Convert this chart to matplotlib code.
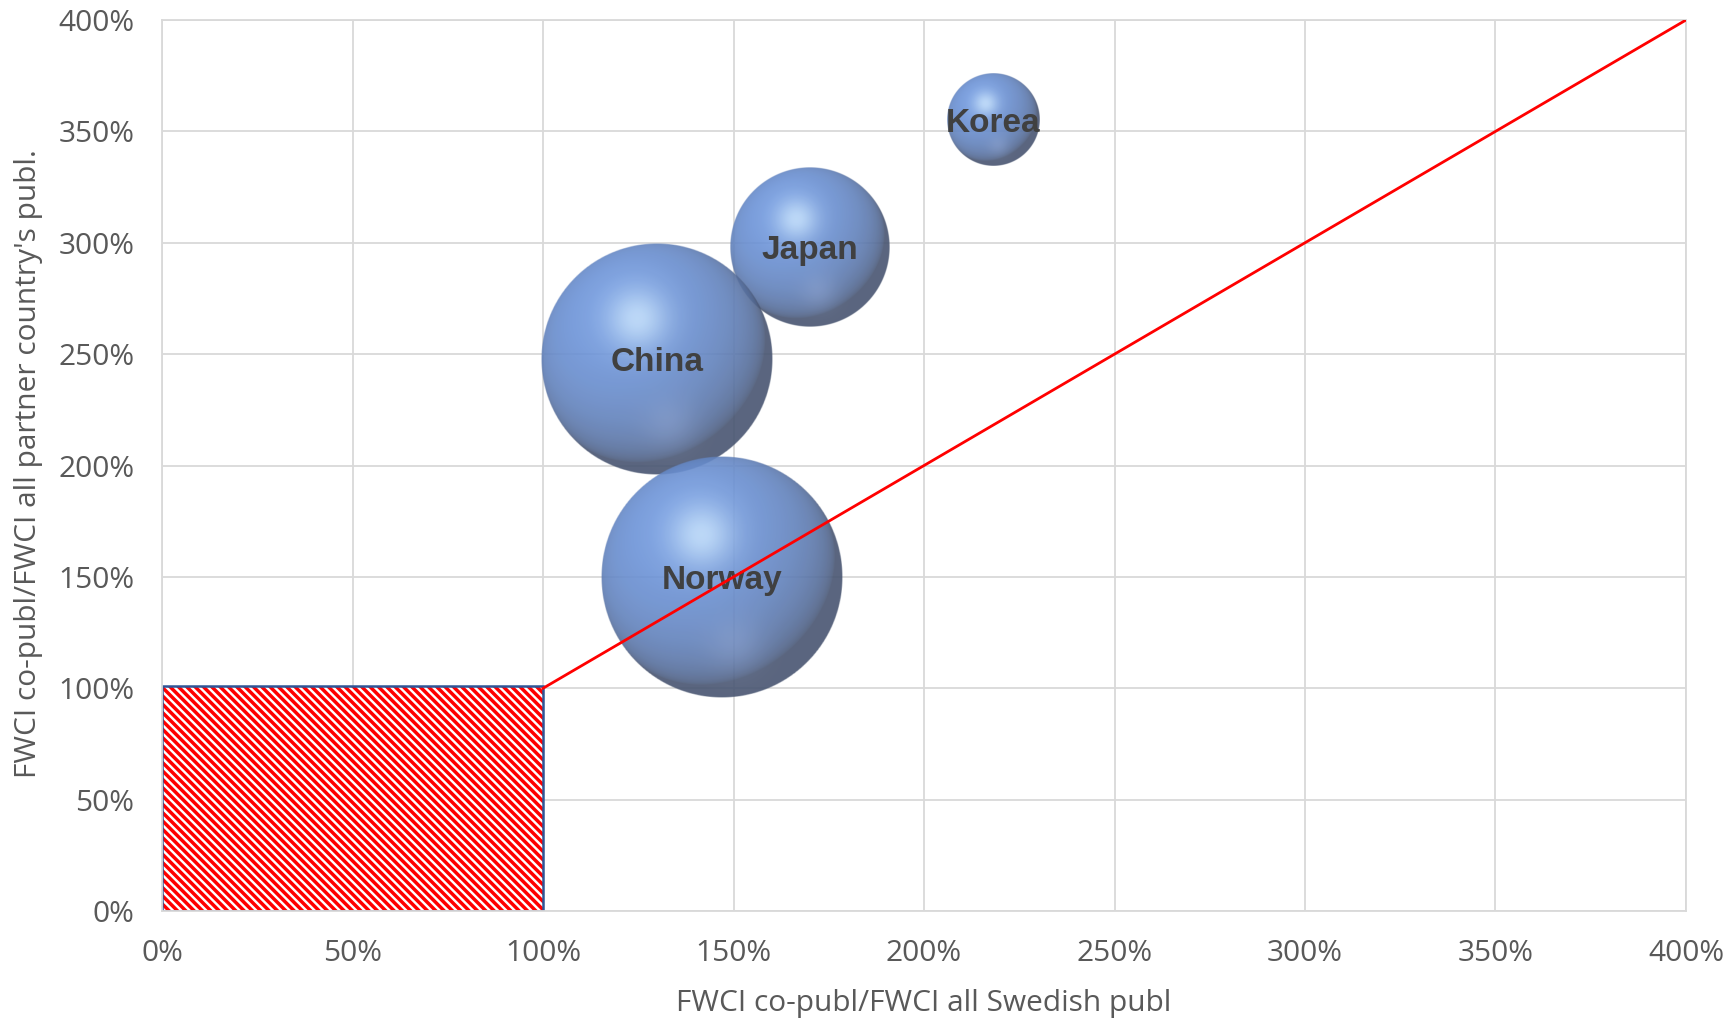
import numpy as np
import matplotlib.pyplot as plt
from matplotlib.patches import Rectangle
from matplotlib.ticker import PercentFormatter

plt.rcParams['font.family'] = ['Open Sans', 'DejaVu Sans']
plt.rcParams['hatch.linewidth'] = 2.5

# data (ratios, 1.0 = 100%)
countries = ['Korea', 'Japan', 'China', 'Norway']
fwci_swe = [2.18, 1.70, 1.30, 1.47]
fwci_partner = [3.55, 2.98, 2.48, 1.50]
bubble_size = [145, 437, 919, 1000]

box_w, box_h = 1.0, 1.01
diag_x = [1.0, 4.0]
diag_y = [1.0, 4.0]
ticks = np.arange(0, 4.01, 0.5)

W, H, DPI = 17.31, 10.21, 100
fig = plt.figure(figsize=(W, H), dpi=DPI)
pos = [0.0936, 0.1077, 0.8804, 0.8727]
ax = fig.add_axes(pos)
ax.set_xlim(0, 4)
ax.set_ylim(0, 4)
ax.set_xticks(ticks)
ax.set_yticks(ticks)
ax.xaxis.set_major_formatter(PercentFormatter(1, decimals=0))
ax.yaxis.set_major_formatter(PercentFormatter(1, decimals=0))
ax.grid(True, color='#d9d9d9', lw=1.3)
ax.set_axisbelow(True)
for s in ax.spines.values():
    s.set_color('#d9d9d9')
    s.set_linewidth(1.3)
ax.tick_params(length=0, labelsize=21.5, labelcolor='#595959', pad=20)

ax.set_xlabel('FWCI co-publ/FWCI all Swedish publ', fontsize=21.5, color='#595959')
ax.set_ylabel("FWCI co-publ/FWCI all partner country's publ.", fontsize=21.5, color='#595959')
ax.xaxis.set_label_coords(0.5, -0.087)
ax.yaxis.set_label_coords(-0.078, 0.502)

# hatched box
ax.add_patch(Rectangle((0, 0), box_w, box_h, facecolor='white', edgecolor='red',
                       hatch='\\\\\\\\', linewidth=0, zorder=2))
ax.add_patch(Rectangle((0, 0), box_w, box_h, facecolor='none', edgecolor='#2f5597',
                       linewidth=1.8, zorder=2.1))

# diagonal
ax.plot(diag_x, diag_y, color='red', lw=2.0, zorder=4)


def sphere_rgba(n=400):
    v, u = np.mgrid[-1:1:n * 1j, -1:1:n * 1j]
    d2 = u ** 2 + v ** 2
    d = np.sqrt(d2)
    nz = np.sqrt(np.clip(1 - d2, 0, 1))
    L = np.array([-0.35, -0.45, 0.82])
    L = L / np.linalg.norm(L)
    diff = np.clip(u * L[0] + v * L[1] + nz * L[2], 0, 1)
    dark = np.array([0.28, 0.33, 0.44])
    base = np.array([0.43, 0.59, 0.87])
    hi = np.array([0.80, 0.91, 1.0])
    t = (diff ** 0.6)[..., None]
    rgb = dark + (base - dark) * t
    spot = np.exp(-((u + 0.17) ** 2 + (v + 0.35) ** 2) / 0.07)
    rgb = rgb + (hi - rgb) * (spot[..., None] * 0.75)
    refl = np.exp(-((u - 0.1) ** 2 + (v - 0.55) ** 2) / 0.05) * 0.3
    rgb = rgb + (np.array([0.58, 0.67, 0.86]) - rgb) * refl[..., None]
    a = np.clip((1 - d) * n / 2, 0, 1) * 0.9
    return np.dstack([np.clip(rgb, 0, 1), a])


img = sphere_rgba()
px_x = pos[2] * W * DPI / 4.0
px_y = pos[3] * H * DPI / 4.0
rmax = 121
for name, x, y, s in zip(countries, fwci_swe, fwci_partner, bubble_size):
    r = rmax * np.sqrt(s / max(bubble_size))
    rx, ry = r / px_x, r / px_y
    ax.imshow(img, extent=[x - rx, x + rx, y - ry, y + ry], origin='upper',
              aspect='auto', interpolation='bilinear', zorder=3)
    ax.annotate(name, (x, y), xytext=(0, -2.5), textcoords='offset points',
                ha='center', va='center', fontsize=24, fontweight='bold',
                color='#404040', family=['Liberation Sans', 'DejaVu Sans'], zorder=3.5)

ax.set_xlim(0, 4)
ax.set_ylim(0, 4)

fig.savefig('out.png', dpi=DPI)
